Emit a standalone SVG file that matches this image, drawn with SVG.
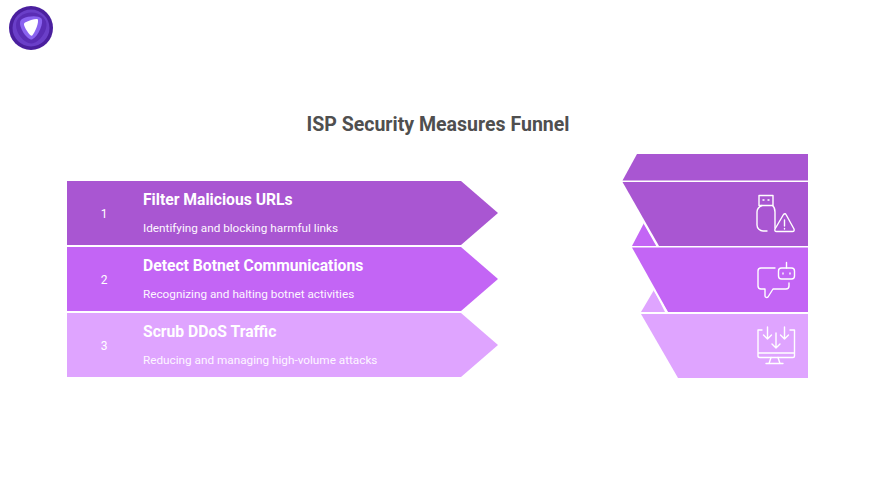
<svg xmlns="http://www.w3.org/2000/svg" width="876" height="493" viewBox="0 0 876 493">
<style>
text{font-family:Roboto,"Liberation Sans",sans-serif;fill:#fff}
.h{font-size:15.700px;font-weight:700}
.d{font-size:11.750px;font-weight:400;fill:#fdf6ff}
.n{font-size:12px;font-weight:400;text-anchor:middle}
.i{fill:none;stroke:#fff;stroke-width:1.400;stroke-linecap:round;stroke-linejoin:round}
.a{fill:#a956d2}.b{fill:#c365f5}.c{fill:#dfa4ff}
</style>
<rect width="876" height="493" fill="#fff"/>
<g id="logo">
<circle cx="31" cy="28" r="22" fill="#4a1f9e"/>
<circle cx="31" cy="28" r="18.500" fill="#6a3fc8"/>
<path d="M31 12.500C38 12 46 17 46.500 24C47 32 39 43 31.500 43.500C23 43 16 33 16 25C16 17 24 13 31 12.500Z" fill="#5a2db5"/>
<path d="M23 18.500C28 16 38 15 41.500 18.500C44 22 39 36 32 39.500C27 40 20 29 20 23C20 20.500 21 19.500 23 18.500Z" fill="#8a63f0"/>
<path d="M25 22.500C29 20.500 35 18.500 37.500 19C39.500 21 35.500 32 32 35.800C30 36.500 24 27 24 24.500C24 23.500 24.300 23 25 22.500Z" fill="#fff"/>
</g>
<text x="438" y="131" text-anchor="middle" style="font-size:19.550px;font-weight:700;fill:#4f4f4f">ISP Security Measures Funnel</text>
<g id="connectors"></g>
<g id="step1">
<polygon class="a" points="67,181 461,181 498,213 461,245 67,245"/>
<text class="n" x="104" y="218">1</text>
<text class="h" x="143" y="205">Filter Malicious URLs</text>
<text class="d" x="143" y="232">Identifying and blocking harmful links</text>
</g>
<g id="step2">
<polygon class="b" points="67,247 461,247 498,279 461,311 67,311"/>
<text class="n" x="104" y="284">2</text>
<text class="h" x="143" y="271">Detect Botnet Communications</text>
<text class="d" x="143" y="298">Recognizing and halting botnet activities</text>
</g>
<g id="step3">
<polygon class="c" points="67,313 461,313 498,345 461,377 67,377"/>
<text class="n" x="104" y="350">3</text>
<text class="h" x="143" y="337">Scrub DDoS Traffic</text>
<text class="d" x="143" y="364">Reducing and managing high-volume attacks</text>
</g>
<g id="funnel">
<polygon class="a" points="637,154 808,154 808,180.500 622.500,180.500"/>
<polygon class="b" points="644,223 632,246 657,246"/>
<polygon class="c" points="654,290 641,312 665,312"/>
<polygon class="c" points="641,314 808,314 808,378 678,378"/>
<polygon class="b" points="632,247.500 808,247.500 808,312 668,312"/>
<polygon class="a" points="622.500,182 808,182 808,246 659,246"/>
<path d="M644 223L657 246M654 290L667 312" stroke="#fff" stroke-width="1.400" fill="none"/>
</g>
<g id="icon-usb" class="i">
<rect x="759" y="195.500" width="14" height="10"/>
<path d="M762 205.500C758.500 207 757 209 757 212V225C757 228.500 760 231 763 231H767M772.500 205.500C774.500 207 775 209 775 212V228"/>
<path d="M783.500 214.500C784.500 213.500 785.500 213.500 786 214.500L794 229C794.500 230.500 794 231.500 792.500 231.500H776.500C775 231.500 774.500 230.500 775 229Z"/>
<path d="M784.500 220V226M784.500 228.500V229"/>
<path d="M763 200H764M768 200H769"/>
</g>
<g id="icon-bot" class="i">
<path d="M775 268H761C759 268 758 269.500 758 271V286C758 288 759 289 761 289H765V296C765 297.500 767 298 768 297L773 289H786C788 289 789 288 789 286V283"/>
<rect x="778.500" y="268" width="16" height="11" rx="3"/>
<path d="M786.500 262.500V268M783 273V274M790 273V274"/>
</g>
<g id="icon-monitor" class="i">
<path d="M762 330H758V356C758 357 758.500 357.500 760 357.500H793C794 357.500 794.500 357 794.500 356V330H790M758 353H794.500"/>
<path d="M771 357.500L769 363.500H780L778 357.500M769 363.500H766M780 363.500H783"/>
<path d="M767.500 327V339M763.500 335L767.500 339L771.500 335"/>
<path d="M776 333V348M772 344L776 348L780 344"/>
<path d="M784.500 327V339M780.500 335L784.500 339L788.500 335"/>
</g>
</svg>
